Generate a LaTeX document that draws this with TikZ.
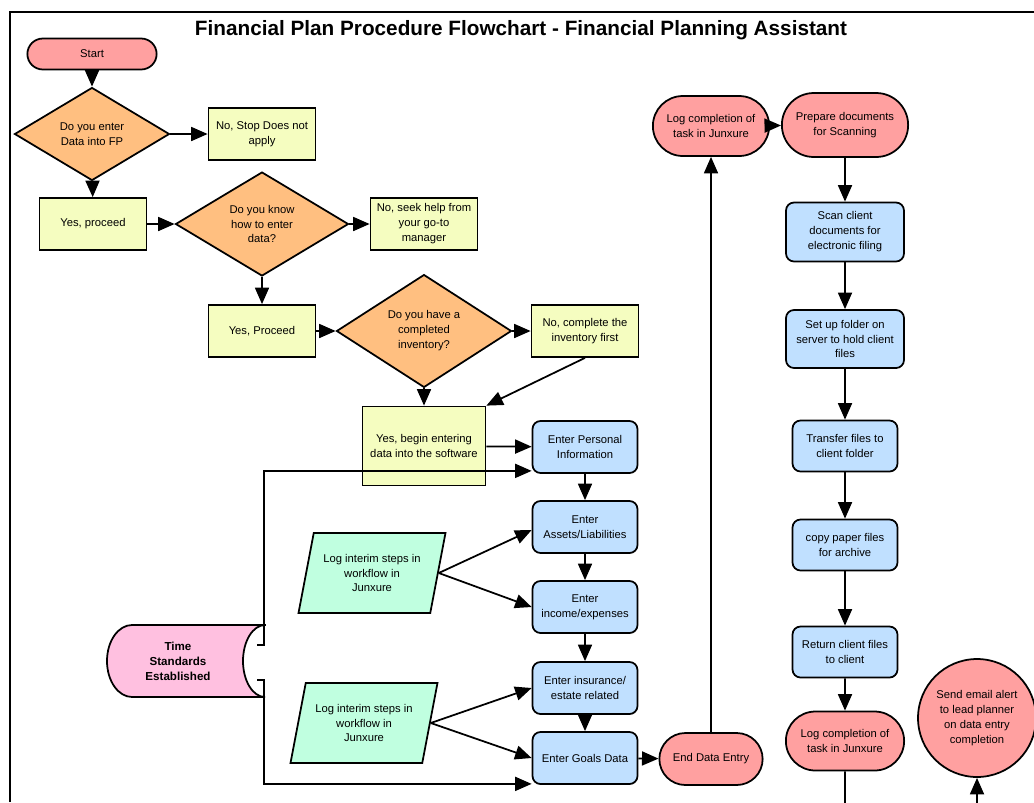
\documentclass[tikz,border=0pt]{standalone}
\usepackage{fontspec}
\setmainfont{Liberation Sans}
\usetikzlibrary{arrows.meta,shapes.geometric,shapes.misc,calc}

\definecolor{pillred}{HTML}{FFA0A0}
\definecolor{decorange}{HTML}{FFBF80}
\definecolor{ansyellow}{HTML}{F5FDC0}
\definecolor{taskblue}{HTML}{C0E0FF}
\definecolor{loggreen}{HTML}{C0FFE0}
\definecolor{storepink}{HTML}{FFC0E0}

\begin{document}
\begin{tikzpicture}[x=0.02cm, y=-0.02cm,
    every node/.style={font=\fontsize{6.4}{8.5}\selectfont, align=center, line width=1pt},
    pill/.style={rounded rectangle, draw, fill=pillred, minimum width=2.3cm, minimum height=1.04cm},
    decision/.style={diamond, draw, fill=decorange, inner sep=0pt},
    answer/.style={rectangle, draw, fill=ansyellow, minimum width=2.14cm, minimum height=1.04cm},
    task/.style={rectangle, rounded corners=0.16cm, draw, fill=taskblue, minimum width=2.1cm, minimum height=1.04cm},
    logstep/.style={trapezium, trapezium left angle=73, trapezium right angle=107,
        trapezium stretches body, draw, fill=loggreen, minimum width=2.94cm, minimum height=1.6cm},
    arr/.style={-{Triangle[length=0.33cm, width=0.28cm]}, line width=1pt}]
    \useasboundingbox (0,0) rectangle (1034,802);

    % 1. Frame and title
    \draw[line width=0.8pt] (10,802) -- (10,12) -- (1034,12);
    \node[font=\bfseries\fontsize{11.8}{14}\selectfont] (title) at (521,30)
        {Financial Plan Procedure Flowchart - Financial Planning Assistant};

    % 2. Questions on the left
    \node[pill, minimum width=2.82cm, minimum height=0.62cm] (start) at (92,54) {Start};
    \node[decision, minimum width=3.1cm, minimum height=1.86cm] (q1) at (92,134) {Do you enter\\Data into FP};
    \node[answer] (nostop) at (262,134) {No, Stop Does not\\apply};
    \node[answer] (yes1) at (93,224) {Yes, proceed};
    \node[decision, minimum width=3.46cm, minimum height=2.08cm] (q2) at (262,224) {Do you know\\how to enter\\data?};
    \node[answer] (nohelp) at (424,224) {No, seek help from\\your go-to\\manager};
    \node[answer] (yes2) at (262,331) {Yes, Proceed};
    \node[decision, minimum width=3.5cm, minimum height=2.08cm] (q3) at (424,331) {Do you have a\\completed\\inventory?};
    \node[answer] (noinv) at (585,331) {No, complete the\\inventory first};
    \node[answer, minimum width=2.46cm, minimum height=1.58cm] (yes3) at (424,446) {Yes, begin entering\\data into the software};

    % 3. Data entry column
    \node[task] (personal) at (585,447) {Enter Personal\\Information};
    \node[task] (assets) at (585,527) {Enter\\Assets/Liabilities};
    \node[task] (income) at (585,607) {Enter\\income/expenses};
    \node[task] (insur) at (585,688) {Enter insurance/\\estate related};
    \node[task] (goals) at (585,758) {Enter Goals Data};
    \node[pill] (enddata) at (711,759) {End Data Entry};

    % Interim logging
    \node[logstep] (log1) at (372,573) {Log interim steps in\\workflow in\\Junxure};
    \node[logstep] (log2) at (364,723) {Log interim steps in\\workflow in\\Junxure};

    % Stored data symbol (time standards)
    \filldraw[fill=storepink, line width=1pt] (265,625) -- (132,625)
        arc[start angle=90, end angle=270, x radius=0.5cm, y radius=0.72cm] -- (265,697)
        arc[start angle=-90, end angle=-270, x radius=0.44cm, y radius=0.72cm] -- cycle;
    \node[font=\bfseries\fontsize{6.6}{8.5}\selectfont] (timestd) at (178,661) {Time\\Standards\\Established};
    \coordinate (tsA) at (257,645);
    \coordinate (tsB) at (257,680);

    % 4. Scanning column on the right
    \node[pill, minimum width=2.56cm, minimum height=1.2cm] (logtop) at (711,126) {Log completion of\\task in Junxure};
    \node[pill, minimum width=2.76cm, minimum height=1.28cm] (prep) at (845,125) {Prepare documents\\for Scanning};
    \node[task, minimum width=2.36cm, minimum height=1.18cm] (scan) at (845,232) {Scan client\\documents for\\electronic filing};
    \node[task, minimum width=2.36cm, minimum height=1.16cm] (folder) at (845,339) {Set up folder on\\server to hold client\\files};
    \node[task, minimum height=1.02cm] (transfer) at (845,446) {Transfer files to\\client folder};
    \node[task, minimum height=1.02cm] (copy) at (845,545) {copy paper files\\for archive};
    \node[task, minimum height=1.02cm] (return) at (845,652) {Return client files\\to client};
    \node[pill, minimum width=2.6cm, minimum height=1.18cm] (logbot) at (845,741) {Log completion of\\task in Junxure};
    \node[circle, draw, fill=pillred, minimum size=2.36cm, inner sep=1pt] (email) at (977,718)
        {Send email alert\\to lead planner\\on data entry\\completion};
    \coordinate (downA) at (845,812);
    \coordinate (upB) at (977,812);

    % 5. Connectors
    \foreach \a/\b in {start/q1, q1/yes1, q1/nostop, yes1/q2, q2/nohelp, q2/yes2, yes2/q3,
        q3/noinv, q3/yes3, yes3/personal, personal/assets, assets/income, income/insur,
        insur/goals, goals/enddata, logtop/prep, prep/scan, scan/folder, folder/transfer,
        transfer/copy, copy/return, return/logbot}
        \draw[arr] (\a) -- (\b);

    \draw[arr] (noinv.south) -- (yes3.north east);
    \draw[arr] (log1.east) -- ($(assets.west)+(0,3)$);
    \draw[arr] (log1.east) -- (income.west);
    \draw[arr] (log2.east) -- (insur.west);
    \draw[arr] (log2.east) -- (goals.west);
    \draw[arr] (tsA) -- ++(7,0) |- ($(personal.south west)+(0,-3)$);
    \draw[arr] (tsB) -- ++(7,0) |- ($(goals.south west)+(0,-1)$);
    \draw[arr] (enddata.north) -- (logtop.south);
    \draw[line width=1pt] (logbot) -- (downA);
    \draw[arr] (upB) -- (email);

\end{tikzpicture}
\end{document}
